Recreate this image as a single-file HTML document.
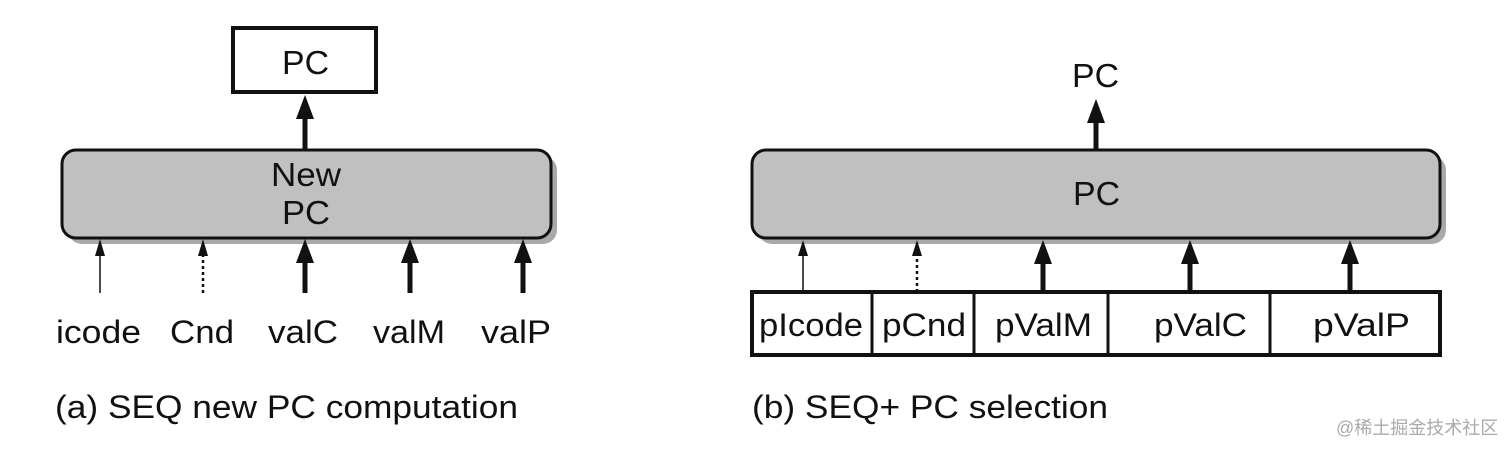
<!DOCTYPE html>
<html><head><meta charset="utf-8"><style>
html,body{margin:0;padding:0;background:#fff;}
svg{display:block;}
text{font-family:"Liberation Sans",Arial,sans-serif;fill:#111;}
</style></head><body>
<svg width="1512" height="454" viewBox="0 0 1512 454" xmlns="http://www.w3.org/2000/svg">
<!-- LEFT -->
<rect x="233" y="28" width="143" height="64" fill="#fff" stroke="#111" stroke-width="4"/>
<text x="282" y="74" font-size="33" textLength="47" lengthAdjust="spacingAndGlyphs">PC</text>
<line x1="305" y1="150" x2="305" y2="115" stroke="#111" stroke-width="5"/>
<polygon points="305,95 296,119 314,119" fill="#111"/>
<rect x="68" y="156" width="489" height="88" rx="14" fill="#a9a9a9"/>
<rect x="62" y="150" width="489" height="88" rx="14" fill="#c0c0c0" stroke="#111" stroke-width="3"/>
<text x="271" y="186" font-size="33" textLength="70" lengthAdjust="spacingAndGlyphs">New</text>
<text x="282" y="224" font-size="33" textLength="48" lengthAdjust="spacingAndGlyphs">PC</text>
<!-- inputs left -->
<line x1="100" y1="293" x2="100" y2="252" stroke="#111" stroke-width="1.5"/>
<polygon points="100,239 95,256 105,256" fill="#111"/>
<line x1="203" y1="293" x2="203" y2="252" stroke="#111" stroke-width="2.5" stroke-dasharray="3,3"/>
<polygon points="203,239 198,256 208,256" fill="#111"/>
<line x1="305" y1="293" x2="305" y2="258" stroke="#111" stroke-width="5"/>
<polygon points="305,239 296,263 314,263" fill="#111"/>
<line x1="410" y1="293" x2="410" y2="258" stroke="#111" stroke-width="5"/>
<polygon points="410,239 401,263 419,263" fill="#111"/>
<line x1="523" y1="293" x2="523" y2="258" stroke="#111" stroke-width="5"/>
<polygon points="523,239 514,263 532,263" fill="#111"/>
<text x="56" y="343" font-size="32" textLength="85" lengthAdjust="spacingAndGlyphs">icode</text>
<text x="170" y="343" font-size="32" textLength="64" lengthAdjust="spacingAndGlyphs">Cnd</text>
<text x="268" y="343" font-size="32" textLength="70" lengthAdjust="spacingAndGlyphs">valC</text>
<text x="373" y="343" font-size="32" textLength="72" lengthAdjust="spacingAndGlyphs">valM</text>
<text x="481" y="343" font-size="32" textLength="70" lengthAdjust="spacingAndGlyphs">valP</text>
<text x="55" y="418" font-size="32" textLength="463" lengthAdjust="spacingAndGlyphs">(a) SEQ new PC computation</text>
<!-- RIGHT -->
<text x="1072" y="87" font-size="33" textLength="47" lengthAdjust="spacingAndGlyphs">PC</text>
<line x1="1096" y1="150" x2="1096" y2="118" stroke="#111" stroke-width="5"/>
<polygon points="1096,99 1087,123 1105,123" fill="#111"/>
<rect x="758" y="156" width="688" height="88" rx="14" fill="#a9a9a9"/>
<rect x="752" y="150" width="688" height="88" rx="14" fill="#c0c0c0" stroke="#111" stroke-width="3"/>
<text x="1073" y="205" font-size="33" textLength="47" lengthAdjust="spacingAndGlyphs">PC</text>
<line x1="803" y1="292" x2="803" y2="252" stroke="#111" stroke-width="1.5"/>
<polygon points="803,240 798,256 808,256" fill="#111"/>
<line x1="917" y1="292" x2="917" y2="252" stroke="#111" stroke-width="2.5" stroke-dasharray="3,3"/>
<polygon points="917,240 912,256 922,256" fill="#111"/>
<line x1="1043" y1="292" x2="1043" y2="258" stroke="#111" stroke-width="5"/>
<polygon points="1043,240 1034,264 1052,264" fill="#111"/>
<line x1="1190" y1="292" x2="1190" y2="258" stroke="#111" stroke-width="5"/>
<polygon points="1190,240 1181,264 1199,264" fill="#111"/>
<line x1="1350" y1="292" x2="1350" y2="258" stroke="#111" stroke-width="5"/>
<polygon points="1350,240 1341,264 1359,264" fill="#111"/>
<rect x="752" y="292" width="688" height="63" fill="#fff" stroke="#111" stroke-width="4"/>
<line x1="872" y1="292" x2="872" y2="355" stroke="#111" stroke-width="3"/>
<line x1="974" y1="292" x2="974" y2="355" stroke="#111" stroke-width="3"/>
<line x1="1108" y1="292" x2="1108" y2="355" stroke="#111" stroke-width="3"/>
<line x1="1270" y1="292" x2="1270" y2="355" stroke="#111" stroke-width="3"/>
<text x="759" y="336" font-size="32" textLength="104" lengthAdjust="spacingAndGlyphs">pIcode</text>
<text x="882" y="336" font-size="32" textLength="84" lengthAdjust="spacingAndGlyphs">pCnd</text>
<text x="995" y="336" font-size="32" textLength="97" lengthAdjust="spacingAndGlyphs">pValM</text>
<text x="1154" y="336" font-size="32" textLength="93" lengthAdjust="spacingAndGlyphs">pValC</text>
<text x="1313" y="336" font-size="32" textLength="97" lengthAdjust="spacingAndGlyphs">pValP</text>
<text x="752" y="418" font-size="32" textLength="356" lengthAdjust="spacingAndGlyphs">(b) SEQ+ PC selection</text>
<text x="1336" y="434" font-size="18" style="fill:#aaa;font-family:'Liberation Sans','Noto Sans CJK SC',sans-serif">@稀土掘金技术社区</text>
</svg>
</body></html>
